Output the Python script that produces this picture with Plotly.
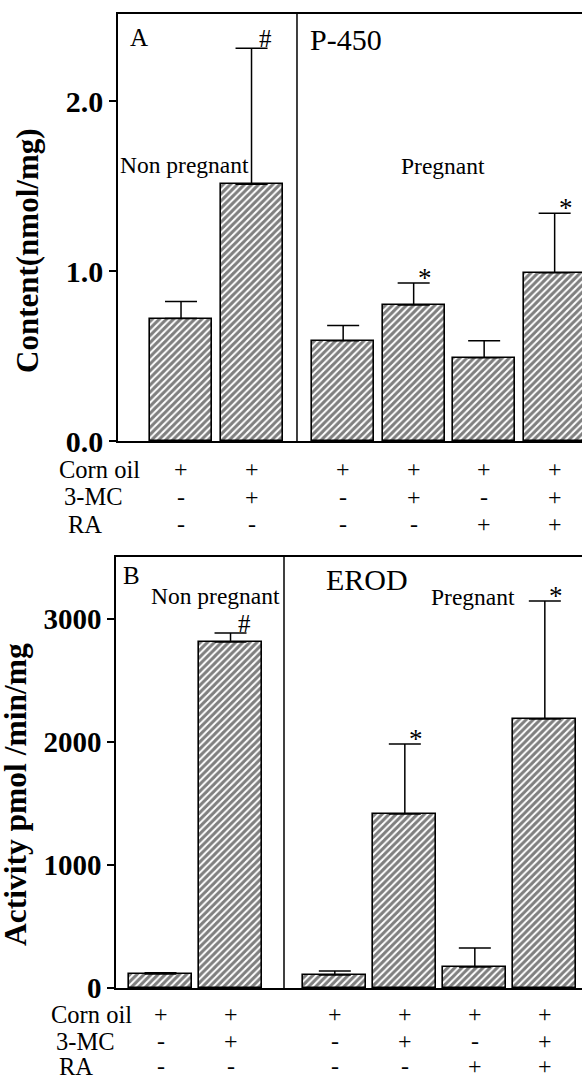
import plotly.graph_objects as go

# ---------------- data ----------------
treatments = ["NP control", "NP 3-MC", "P control", "P 3-MC", "P RA", "P 3-MC+RA"]
group_of = ["Non pregnant", "Non pregnant", "Pregnant", "Pregnant", "Pregnant", "Pregnant"]
corn_oil = ["+", "+", "+", "+", "+", "+"]
mc3 = ["-", "+", "-", "+", "-", "+"]
ra = ["-", "-", "-", "-", "+", "+"]
row_labels = ["Corn oil", "3-MC", "RA"]

p450_mean = [0.72, 1.51, 0.59, 0.80, 0.49, 0.99]
p450_err = [0.10, 0.80, 0.09, 0.13, 0.10, 0.35]
p450_mark = ["", "#", "", "*", "", "*"]
p450_ticks = [0, 1, 2]
p450_ticktext = ["0.0", "1.0", "2.0"]

erod_mean = [114, 2813, 106, 1415, 171, 2187]
erod_err = [10, 73, 32, 569, 154, 959]
erod_mark = ["", "#", "", "*", "", "*"]
erod_ticks = [0, 1000, 2000, 3000]
erod_ticktext = ["0", "1000", "2000", "3000"]

# ---------------- layout helpers ----------------
W, H = 582, 1079
SERIF = "Liberation Serif, Times New Roman, serif"


def px(x):
    return x / W


def py(y):
    return 1 - y / H


def positions(gap):
    return [i + (gap if group_of[i] == "Pregnant" else 0) for i in range(len(treatments))]


xA = positions(0.30)
xB = positions(0.49)

fig = go.Figure()

hatch = dict(shape="/", fgcolor="black", bgcolor="white", size=5, solidity=0.6)

fig.add_trace(go.Bar(
    x=xA, y=p450_mean, width=0.88, xaxis="x", yaxis="y",
    marker=dict(color="white", line=dict(color="black", width=1.6), pattern=hatch),
    error_y=dict(type="data", symmetric=False, array=p450_err,
                 arrayminus=[0] * len(p450_err), color="black", thickness=1.5, width=16),
    showlegend=False, hoverinfo="skip",
))
fig.add_trace(go.Bar(
    x=xB, y=erod_mean, width=0.90, xaxis="x2", yaxis="y2",
    marker=dict(color="white", line=dict(color="black", width=1.6), pattern=hatch),
    error_y=dict(type="data", symmetric=False, array=erod_err,
                 arrayminus=[0] * len(erod_err), color="black", thickness=1.5, width=16),
    showlegend=False, hoverinfo="skip",
))

axis_common = dict(showgrid=False, zeroline=False, showline=True, linecolor="black")

fig.update_layout(
    width=W, height=H,
    margin=dict(l=0, r=0, t=0, b=0, autoexpand=False),
    paper_bgcolor="white", plot_bgcolor="white",
    bargap=0,
    xaxis=dict(domain=[px(118), 1], range=[-0.894, 5.688], mirror=True, linewidth=2,
               showticklabels=False, ticks="", **axis_common),
    yaxis=dict(domain=[py(441), py(14)], range=[0, 2.512], linewidth=1.5,
               ticks="outside", ticklen=7, tickwidth=1.5, tickcolor="black",
               tickvals=p450_ticks, ticktext=p450_ticktext,
               tickfont=dict(family=SERIF, size=30, color="black", weight="bold"),
               **axis_common),
    xaxis2=dict(domain=[px(116), 1], range=[-0.636, 6.021], mirror=True, linewidth=2,
                showticklabels=False, ticks="", anchor="y2", **axis_common),
    yaxis2=dict(domain=[py(988), py(557)], range=[0, 3504], linewidth=1.5, anchor="x2",
                ticks="outside", ticklen=7, tickwidth=1.5, tickcolor="black",
                tickvals=erod_ticks, ticktext=erod_ticktext,
                tickfont=dict(family=SERIF, size=29, color="black", weight="bold"),
                **axis_common),
)

# group dividers
fig.add_shape(type="line", xref="x", yref="y domain", x0=1.645, x1=1.645, y0=0, y1=1,
              line=dict(color="black", width=1.5))
fig.add_shape(type="line", xref="x2", yref="y2 domain", x0=1.764, x1=1.764, y0=0, y1=1,
              line=dict(color="black", width=1.5))

ann = []


def text(x, y, s, size, anchor="center", bold=False, angle=0):
    ann.append(dict(xref="paper", yref="paper", x=px(x), y=py(y), text=s, showarrow=False,
                    xanchor=anchor, yanchor="middle", textangle=angle, borderpad=0,
                    font=dict(family=SERIF, size=size, color="black",
                              weight="bold" if bold else "normal")))


# panel texts
text(139, 37, "A", 25)
text(346, 39, "P-450", 30)
text(184, 165, "Non pregnant", 23.5)
text(443, 166, "Pregnant", 23.5)
text(131, 575, "B", 25)
text(215, 596, "Non pregnant", 23.5)
text(367, 579, "EROD", 30)
text(473, 597, "Pregnant", 23.5)

# y titles
text(28, 251, "Content(nmol/mg)", 31, bold=True, angle=-90)
text(15, 795, "Activity pmol /min/mg", 31.5, bold=True, angle=-90)

# treatment rows
rowsA = [469, 497, 524]
rowsB = [1014, 1041, 1066]
leftA = [58, 63, 67]
leftB = [50, 55, 58]
for r, lab in enumerate(row_labels):
    text(leftA[r], rowsA[r], lab, 24.5, anchor="left")
    text(leftB[r], rowsB[r], lab, 24.5, anchor="left")

for xr, rows in (("x", rowsA), ("x2", rowsB)):
    xs = xA if xr == "x" else xB
    for i in range(len(treatments)):
        for r, sym in enumerate((corn_oil[i], mc3[i], ra[i])):
            ann.append(dict(xref=xr, yref="paper", x=xs[i], y=py(rows[r]), text=sym,
                            showarrow=False, xanchor="center", yanchor="middle", borderpad=0,
                            font=dict(family=SERIF, size=24, color="black")))

# significance marks
for xs, means, errs, marks, xr, yr in ((xA, p450_mean, p450_err, p450_mark, "x", "y"),
                                       (xB, erod_mean, erod_err, erod_mark, "x2", "y2")):
    for i, m in enumerate(marks):
        if not m:
            continue
        ann.append(dict(xref=xr, yref=yr, x=xs[i], y=means[i] + errs[i], text=m,
                        showarrow=False, xanchor="center", yanchor="bottom",
                        xshift=14 if m == "#" else 11, yshift=-6 if m == "#" else -12,
                        font=dict(family=SERIF, size=25 if m == "#" else 27, color="black")))

fig.update_layout(annotations=ann)
fig.write_html("out.html", config={"displayModeBar": False},
               post_script="document.body.style.margin='0';")
